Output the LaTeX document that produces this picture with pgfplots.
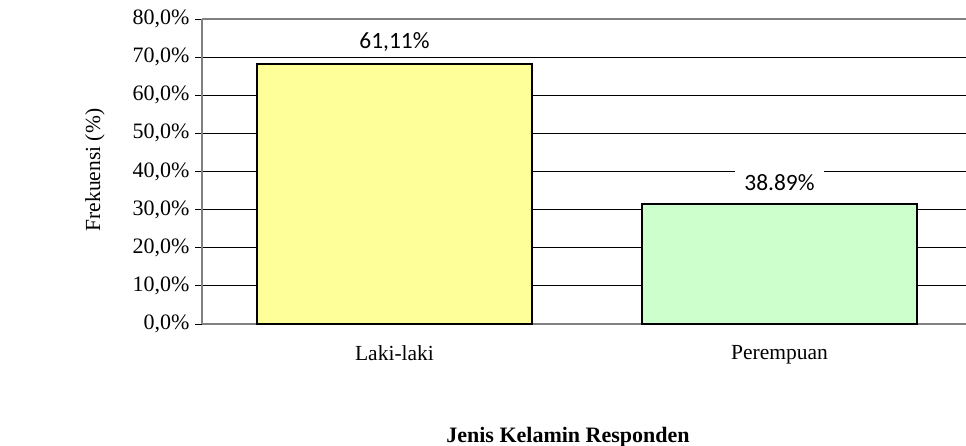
\documentclass[border=0pt]{standalone}
\usepackage{pgfplots}
\pgfplotsset{compat=1.18}
\usepackage{fontspec}
\setmainfont{Liberation Serif}
\newfontfamily\carlito{Carlito}
\definecolor{baryellow}{HTML}{FFFF99}
\definecolor{bargreen}{HTML}{CCFFCC}
\definecolor{axgray}{HTML}{808080}
\begin{document}
\begin{tikzpicture}[font=\fontsize{22bp}{26bp}\selectfont]
\useasboundingbox (-202bp,-122bp) rectangle (764bp,324bp);
\begin{axis}[
  at={(0,0)}, anchor=south west,
  scale only axis,
  width=764bp, height=305bp,
  xmin=-0.5, xmax=1.4844,
  ymin=0, ymax=80,
  axis x line*=bottom, axis y line*=left,
  axis line style={axgray, line width=1.2bp},
  xtick={0,1}, xticklabels={Laki-laki,Perempuan},
  x tick style={draw=none},
  extra x ticks={0.5}, extra x tick labels={},
  extra x tick style={tick style={draw=black, line width=0.8bp}, major tick length=7bp, tick align=outside},
  ytick={0,10,...,80},
  y tick style={black, line width=0.8bp},
  major tick length=7bp, tick align=outside,
  ymajorgrids, grid style={black, line width=0.9bp},
  /pgf/number format/.cd, fixed, fixed zerofill, precision=1, use comma, assume math mode=true,
  /pgfplots/.cd,
  yticklabel={\pgfmathprintnumber{\tick}\%},
  yticklabel style={xshift=-2bp, font=\fontsize{22bp}{26bp}\selectfont},
  xticklabel style={yshift=-11bp, font=\fontsize{21.5bp}{26bp}\selectfont},
  ybar, bar width=0.714, bar shift=0pt,
  clip=false,
]
\addplot[fill=baryellow, draw=black, line width=1.6bp] coordinates {(0,68.2)};
\addplot[fill=bargreen, draw=black, line width=1.6bp] coordinates {(1,31.5)};
\draw[axgray, line width=1.2bp] (rel axis cs:0,1) -- (rel axis cs:1,1);
\node[fill=white, inner xsep=9bp, inner ysep=4bp, font=\carlito\fontsize{23.4bp}{27bp}\selectfont] at (axis cs:0,74.0) {61,11\%};
\node[fill=white, inner xsep=9bp, inner ysep=4bp, font=\carlito\fontsize{23.4bp}{27bp}\selectfont] at (axis cs:1,37.2) {38.89\%};
\end{axis}
\node[rotate=90, font=\fontsize{21.5bp}{26bp}\selectfont] at (-107bp,154bp) {Frekuensi (\%)};
\node[font=\bfseries\fontsize{22bp}{26bp}\selectfont] at (366bp,-113bp) {Jenis Kelamin Responden};
\end{tikzpicture}
\end{document}
